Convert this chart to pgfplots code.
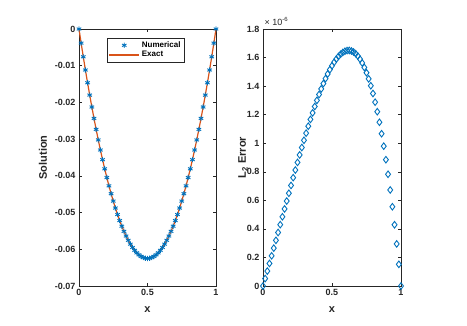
\documentclass[border=0pt]{standalone}
\usepackage{fontspec}
\setmainfont{Liberation Sans}
\usepackage{pgfplots}
\usepackage{pgfplotstable}
\pgfplotsset{compat=1.18}

\definecolor{mblue}{rgb}{0,0.447,0.741}
\definecolor{morange}{rgb}{0.85,0.325,0.098}
\definecolor{maxis}{rgb}{0.15,0.15,0.15}

% numerical / exact solution, 65 nodes
\pgfplotstableread{
x u
0 0
0.015625 -0.003845
0.03125 -0.007568
0.046875 -0.011169
0.0625 -0.014648
0.078125 -0.018005
0.09375 -0.021240
0.109375 -0.024353
0.125 -0.027344
0.140625 -0.030212
0.15625 -0.032959
0.171875 -0.035583
0.1875 -0.038086
0.203125 -0.040466
0.21875 -0.042725
0.234375 -0.044861
0.25 -0.046875
0.265625 -0.048767
0.28125 -0.050537
0.296875 -0.052185
0.3125 -0.053711
0.328125 -0.055115
0.34375 -0.056396
0.359375 -0.057556
0.375 -0.058594
0.390625 -0.059509
0.40625 -0.060303
0.421875 -0.060974
0.4375 -0.061523
0.453125 -0.061951
0.46875 -0.062256
0.484375 -0.062439
0.5 -0.0625
0.515625 -0.062439
0.53125 -0.062256
0.546875 -0.061951
0.5625 -0.061523
0.578125 -0.060974
0.59375 -0.060303
0.609375 -0.059509
0.625 -0.058594
0.640625 -0.057556
0.65625 -0.056396
0.671875 -0.055115
0.6875 -0.053711
0.703125 -0.052185
0.71875 -0.050537
0.734375 -0.048767
0.75 -0.046875
0.765625 -0.044861
0.78125 -0.042725
0.796875 -0.040466
0.8125 -0.038086
0.828125 -0.035583
0.84375 -0.032959
0.859375 -0.030212
0.875 -0.027344
0.890625 -0.024353
0.90625 -0.021240
0.921875 -0.018005
0.9375 -0.014648
0.953125 -0.011169
0.96875 -0.007568
0.984375 -0.003845
1 0
}\soltable

% L2 error, in units of 1e-6
\pgfplotstableread{
x e
0 0
0.015625 0.05191
0.03125 0.10449
0.046875 0.15765
0.0625 0.21132
0.078125 0.26544
0.09375 0.31992
0.109375 0.37467
0.125 0.42963
0.140625 0.48470
0.15625 0.53979
0.171875 0.59482
0.1875 0.64967
0.203125 0.70427
0.21875 0.75851
0.234375 0.81228
0.25 0.86549
0.265625 0.91802
0.28125 0.96976
0.296875 1.02060
0.3125 1.07042
0.328125 1.11911
0.34375 1.16653
0.359375 1.21258
0.375 1.25711
0.390625 1.30000
0.40625 1.34112
0.421875 1.38033
0.4375 1.41750
0.453125 1.45247
0.46875 1.48512
0.484375 1.51528
0.5 1.54281
0.515625 1.56757
0.53125 1.58939
0.546875 1.60812
0.5625 1.62360
0.578125 1.63566
0.59375 1.64414
0.609375 1.64888
0.625 1.64969
0.640625 1.64641
0.65625 1.63886
0.671875 1.62686
0.6875 1.61022
0.703125 1.58877
0.71875 1.56231
0.734375 1.53066
0.75 1.49361
0.765625 1.45099
0.78125 1.40258
0.796875 1.34820
0.8125 1.28761
0.828125 1.22065
0.84375 1.14706
0.859375 1.06667
0.875 0.97924
0.890625 0.88456
0.90625 0.78242
0.921875 0.67258
0.9375 0.55483
0.953125 0.42893
0.96875 0.29464
0.984375 0.15175
1 0
}\errtable

\pgfplotsset{
  mstyle/.style={
    scale only axis,
    axis line style={maxis, line width=0.5pt},
    tick style={maxis, line width=0.5pt},
    tick align=inside,
    major tick length=3pt,
    tick label style={font=\fontsize{9}{10}\selectfont\bfseries, text=maxis},
    label style={font=\fontsize{11}{12}\selectfont\bfseries, text=maxis},
    /pgf/number format/assume math mode=true,
    scaled ticks=false,
    xmin=0, xmax=1, xtick={0,0.5,1},
    xticklabel style={/pgf/number format/fixed},
    clip=false,
  }
}

\begin{document}
\begin{tikzpicture}
  \path[use as bounding box, fill=white] (0,0) rectangle (467pt,326pt);

  \begin{axis}[mstyle,
      at={(79pt,40pt)}, anchor=south west,
      width=137pt, height=257pt,
      ymin=-0.07, ymax=0,
      ytick={-0.07,-0.06,-0.05,-0.04,-0.03,-0.02,-0.01,0},
      yticklabel style={/pgf/number format/fixed, /pgf/number format/precision=2},
      xlabel={x}, ylabel={Solution},
      xlabel style={at={(axis description cs:0.5,-0.093)}, anchor=center},
      ylabel style={at={(axis description cs:-0.263,0.5)}, anchor=center},
      legend style={at={(0.204,0.965)}, anchor=north west, draw=maxis,
        font=\fontsize{8}{9}\selectfont\bfseries, inner sep=1.5pt, row sep=-1.5pt},
      legend cell align=left,
      legend image code/.code={\draw[mark repeat=2, mark phase=2, #1] plot coordinates {(0pt,0pt) (15pt,0pt) (30pt,0pt)};},
    ]
    \addplot[only marks, mark=asterisk, mark size=2.6pt, mark options={line width=0.9pt}, color=mblue] table[x=x, y=u] {\soltable};
    \addlegendentry{Numerical}
    \addplot[line width=1.2pt, draw=morange, color=morange] table[x=x, y=u] {\soltable};
    \addlegendentry{Exact}
  \end{axis}

  \begin{axis}[mstyle,
      at={(263pt,40pt)}, anchor=south west,
      width=138pt, height=257pt,
      ymin=0, ymax=1.8,
      ytick={0,0.2,0.4,0.6,0.8,1,1.2,1.4,1.6,1.8},
      yticklabel style={/pgf/number format/fixed, /pgf/number format/precision=1},
      xlabel={x}, ylabel={L\textsubscript{2} Error},
      xlabel style={at={(axis description cs:0.5,-0.093)}, anchor=center},
      ylabel style={at={(axis description cs:-0.145,0.5)}, anchor=center},
    ]
    \addplot[only marks, mark=diamond, mark size=3.3pt, mark options={line width=0.9pt}, color=mblue] table[x=x, y=e] {\errtable};
    \node[anchor=south west, font=\fontsize{9}{10}\selectfont, text=maxis, inner sep=0pt]
      at (axis description cs:0.01,1.012) {× 10\textsuperscript{-6}};
  \end{axis}
\end{tikzpicture}
\end{document}
